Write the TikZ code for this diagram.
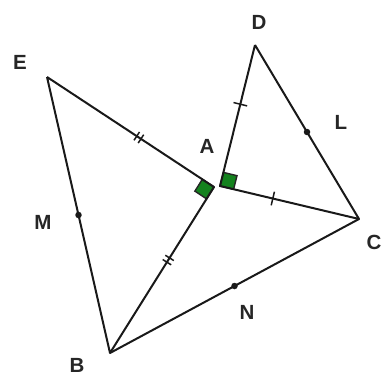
\documentclass[tikz,border=0pt]{standalone}
\usepackage{fontspec}
\setmainfont{Liberation Sans}
\usetikzlibrary{calc}
\definecolor{linecol}{RGB}{25,25,25}
\definecolor{sqgreen}{RGB}{20,130,30}
\begin{document}
\begin{tikzpicture}[x=1pt,y=-1pt,
  seg/.style={draw=linecol,line width=2pt,line join=round},
  tickmark/.style={draw=linecol,line width=1.5pt},
  rsq/.style={fill=sqgreen,draw=black!85,line width=1.4pt},
  lab/.style={font=\bfseries\fontsize{20.5}{24}\selectfont,text=black!85,inner sep=0pt},
  middot/.style={circle,fill=linecol,inner sep=0pt,minimum size=6.5pt}]
\useasboundingbox (0,0) rectangle (384,380);
% vertices
\coordinate (E) at (47,77);
\coordinate (D) at (255,45);
\coordinate (C) at (359,219);
\coordinate (B) at (110,353);
\coordinate (A1) at (214,187);
\coordinate (A2) at (220,186);
% right-angle squares
\coordinate (u1) at ($(A1)!14pt!(E)$);
\coordinate (v1) at ($(A1)!14pt!(B)$);
\coordinate (w1) at ($(u1)+(v1)-(A1)$);
\coordinate (u2) at ($(A2)!14pt!(D)$);
\coordinate (v2) at ($(A2)!14pt!(C)$);
\coordinate (w2) at ($(u2)+(v2)-(A2)$);
\filldraw[rsq] (A1) -- (u1) -- (w1) -- (v1) -- cycle;
\filldraw[rsq] (A2) -- (u2) -- (w2) -- (v2) -- cycle;
% sides
\draw[seg] (E) -- (A1) -- (B) -- (E);
\draw[seg] (D) -- (A2) -- (C) -- (D);
\draw[seg] (B) -- (C);
% midpoints
\node[middot] (M) at ($(E)!0.5!(B)$) {};
\node[middot] (L) at ($(D)!0.5!(C)$) {};
\node[middot] (N) at ($(B)!0.5!(C)$) {};
% single ticks
\coordinate (t1) at ($(D)!0.42!(A2)$);
\draw[tickmark] ($(t1)!7pt!90:(A2)$) -- ($(t1)!7pt!-90:(A2)$);
\coordinate (t2) at ($(A2)!0.38!(C)$);
\draw[tickmark] ($(t2)!7pt!90:(C)$) -- ($(t2)!7pt!-90:(C)$);
% double ticks
\coordinate (t3) at ($(E)!0.55!(A1)$);
\coordinate (t3a) at ($(t3)!2.5pt!(A1)$);
\coordinate (t3b) at ($(t3)!-2.5pt!(A1)$);
\draw[tickmark] ($(t3a)!5pt!90:(A1)$) -- ($(t3a)!5pt!-90:(A1)$);
\draw[tickmark] ($(t3b)!5pt!90:(A1)$) -- ($(t3b)!5pt!-90:(A1)$);
\coordinate (t4) at ($(A1)!0.44!(B)$);
\coordinate (t4a) at ($(t4)!2.5pt!(B)$);
\coordinate (t4b) at ($(t4)!-2.5pt!(B)$);
\draw[tickmark] ($(t4a)!5pt!90:(B)$) -- ($(t4a)!5pt!-90:(B)$);
\draw[tickmark] ($(t4b)!5pt!90:(B)$) -- ($(t4b)!5pt!-90:(B)$);
% labels
\node[lab] (lE) at (20,62) {E};
\node[lab] (lD) at (259,22) {D};
\node[lab] (lA) at (207,146) {A};
\node[lab] (lL) at (341,122) {L};
\node[lab] (lC) at (374,242) {C};
\node[lab] (lM) at (43,222) {M};
\node[lab] (lN) at (247,312) {N};
\node[lab] (lB) at (77,365) {B};
\end{tikzpicture}
\end{document}
